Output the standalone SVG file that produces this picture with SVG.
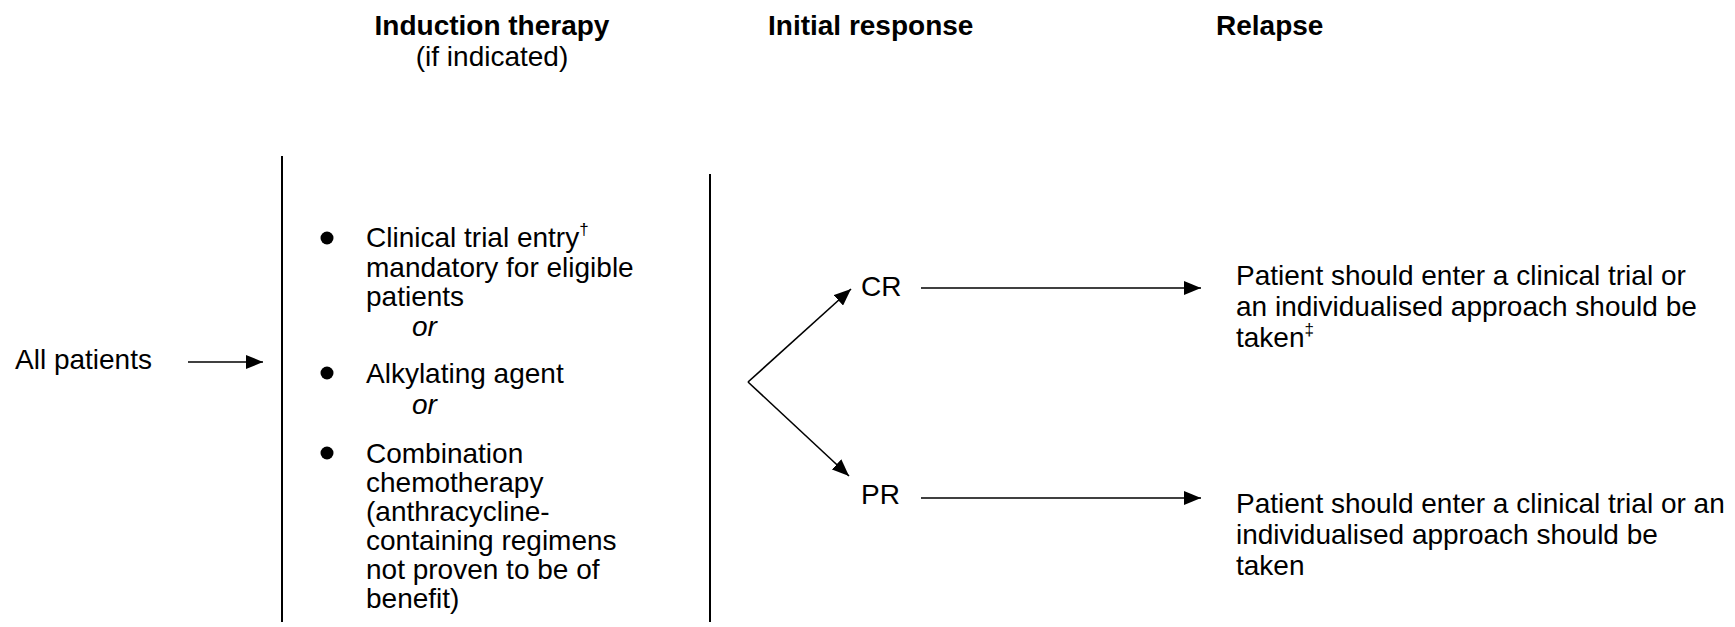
<svg xmlns="http://www.w3.org/2000/svg" width="1735" height="627" viewBox="0 0 1735 627">
  <style>
    text { font-family: "Liberation Sans", Arial, sans-serif; font-size: 28px; fill: #000; }
    .head { font-weight: bold; }
    .alt { font-style: italic; }
    .rule { stroke: #000; stroke-width: 2; fill: none; }
    .conn { stroke: #000; stroke-width: 1.6; fill: none; marker-end: url(#arrow); }
    .dot { fill: #000; }
  </style>
  <defs>
    <marker id="arrow" markerUnits="userSpaceOnUse" markerWidth="18" markerHeight="14" refX="17" refY="7" orient="auto">
      <path d="M0,0 L17,7 L0,14 Z" fill="#000"/>
    </marker>
  </defs>

  <!-- column headings -->
  <g id="headings">
    <text class="head" x="492" y="35" text-anchor="middle">Induction therapy</text>
    <text x="492" y="66" text-anchor="middle">(if indicated)</text>
    <text class="head" x="768" y="35">Initial response</text>
    <text class="head" x="1216" y="35">Relapse</text>
  </g>

  <!-- column dividers -->
  <g id="dividers">
    <line class="rule" x1="282" y1="156" x2="282" y2="622"/>
    <line class="rule" x1="710" y1="174" x2="710" y2="622"/>
  </g>

  <g id="all-patients">
    <text x="15" y="369">All patients</text>
  </g>

  <g id="induction">
    <circle class="dot" cx="327" cy="238" r="6.5"/>
    <text x="366" y="247">Clinical trial entry<tspan dy="-12" font-size="17">†</tspan></text>
    <text x="366" y="277">mandatory for eligible</text>
    <text x="366" y="306">patients</text>
    <text class="alt" x="412" y="336">or</text>
    <circle class="dot" cx="327" cy="373" r="6.5"/>
    <text x="366" y="383">Alkylating agent</text>
    <text class="alt" x="412" y="414">or</text>
    <circle class="dot" cx="327" cy="453" r="6.5"/>
    <text x="366" y="463">Combination</text>
    <text x="366" y="492">chemotherapy</text>
    <text x="366" y="521">(anthracycline-</text>
    <text x="366" y="550">containing regimens</text>
    <text x="366" y="579">not proven to be of</text>
    <text x="366" y="608">benefit)</text>
  </g>

  <g id="cr">
    <text x="861" y="296">CR</text>
  </g>
  <g id="pr">
    <text x="861" y="504">PR</text>
  </g>

  <g id="relapse-cr">
    <text x="1236" y="285">Patient should enter a clinical trial or</text>
    <text x="1236" y="316">an individualised approach should be</text>
    <text x="1236" y="347">taken<tspan dy="-12" font-size="17">‡</tspan></text>
  </g>
  <g id="relapse-pr">
    <text x="1236" y="513">Patient should enter a clinical trial or an</text>
    <text x="1236" y="544">individualised approach should be</text>
    <text x="1236" y="575">taken</text>
  </g>

  <!-- connectors -->
  <g id="connectors">
    <line class="conn" x1="188" y1="362" x2="263" y2="362"/>
    <line class="conn" x1="748" y1="382" x2="851" y2="289"/>
    <line class="conn" x1="748" y1="382" x2="849" y2="476"/>
    <line class="conn" x1="921" y1="288" x2="1201" y2="288"/>
    <line class="conn" x1="921" y1="498" x2="1201" y2="498"/>
  </g>
</svg>
